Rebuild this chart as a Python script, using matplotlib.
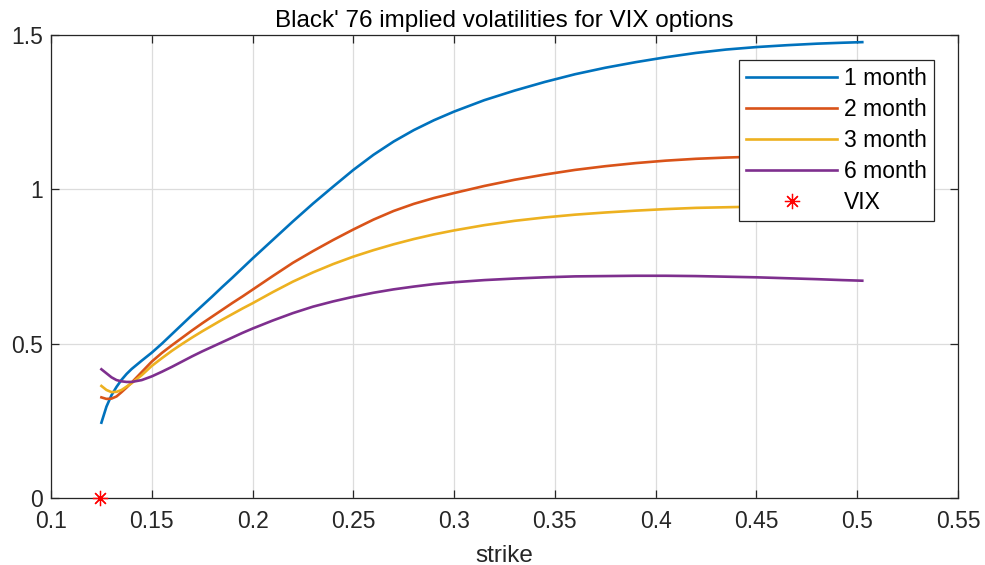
import matplotlib
matplotlib.use("Agg")
import matplotlib.pyplot as plt
import numpy as np

plt.rcParams['font.family'] = ['Liberation Sans', 'DejaVu Sans']

# strike grid and implied vols per maturity
strike = [0.125, 0.1275, 0.13, 0.1325, 0.135, 0.1375, 0.14, 0.145, 0.15, 0.155,
          0.16, 0.165, 0.17, 0.175, 0.18, 0.185, 0.19, 0.195, 0.20, 0.21,
          0.22, 0.23, 0.24, 0.25, 0.26, 0.27, 0.28, 0.29, 0.30, 0.315,
          0.33, 0.345, 0.36, 0.375, 0.39, 0.405, 0.42, 0.435, 0.45, 0.465,
          0.48, 0.4925, 0.5025]
vol_1m = [0.244, 0.296, 0.333, 0.360, 0.383, 0.402, 0.418, 0.445, 0.471, 0.500,
          0.531, 0.562, 0.593, 0.623, 0.653, 0.684, 0.714, 0.745, 0.776, 0.836,
          0.896, 0.954, 1.009, 1.063, 1.112, 1.155, 1.192, 1.224, 1.252, 1.289,
          1.320, 1.348, 1.373, 1.394, 1.412, 1.428, 1.442, 1.453, 1.461, 1.467,
          1.472, 1.475, 1.477]
vol_2m = [0.326, 0.321, 0.322, 0.329, 0.343, 0.358, 0.374, 0.408, 0.442, 0.470,
          0.495, 0.519, 0.543, 0.566, 0.588, 0.610, 0.632, 0.653, 0.675, 0.719,
          0.762, 0.800, 0.836, 0.870, 0.902, 0.930, 0.953, 0.972, 0.988, 1.011,
          1.031, 1.048, 1.063, 1.075, 1.085, 1.093, 1.099, 1.103, 1.106, 1.108,
          1.109, 1.109, 1.109]
vol_3m = [0.363, 0.350, 0.343, 0.344, 0.350, 0.361, 0.372, 0.398, 0.428, 0.453,
          0.477, 0.499, 0.520, 0.540, 0.559, 0.578, 0.596, 0.614, 0.631, 0.667,
          0.701, 0.731, 0.758, 0.782, 0.803, 0.822, 0.839, 0.854, 0.867, 0.884,
          0.898, 0.909, 0.918, 0.925, 0.931, 0.936, 0.940, 0.942, 0.944, 0.945,
          0.945, 0.945, 0.945]
vol_6m = [0.417, 0.404, 0.391, 0.382, 0.378, 0.376, 0.376, 0.382, 0.394, 0.409,
          0.425, 0.442, 0.459, 0.475, 0.490, 0.505, 0.520, 0.535, 0.549, 0.575,
          0.599, 0.620, 0.637, 0.652, 0.665, 0.676, 0.685, 0.693, 0.699, 0.706,
          0.711, 0.715, 0.718, 0.719, 0.720, 0.720, 0.719, 0.717, 0.715, 0.712,
          0.709, 0.706, 0.704]
labels = ['1 month', '2 month', '3 month', '6 month']
vix_level = 0.1245

colors = ['#0072BD', '#D95319', '#EDB120', '#7E2F8E']

fig = plt.figure(figsize=(9.85, 5.65), dpi=100)
ax = fig.add_axes([0.0518, 0.1186, 0.9208, 0.8194])

for v, c, lab in zip([vol_1m, vol_2m, vol_3m, vol_6m], colors, labels):
    ax.plot(strike, v, '-', color=c, lw=1.9, label=lab)
# spot VIX level sits on the strike axis
ax.plot([vix_level], [0], linestyle='none', marker=(8, 2, 0), ms=11,
        mec='#FF0000', mew=0.9, label='VIX', clip_on=False, zorder=5)

ax.set_xlim(0.1, 0.55)
ax.set_ylim(0, 1.5)
ax.set_xticks(np.arange(0.1, 0.551, 0.05))
ax.set_xticklabels(['0.1', '0.15', '0.2', '0.25', '0.3', '0.35', '0.4', '0.45', '0.5', '0.55'])
ax.set_yticks([0, 0.5, 1, 1.5])
ax.set_yticklabels(['0', '0.5', '1', '1.5'])
ax.grid(True, color='#dcdcdc', lw=0.9)
ax.set_axisbelow(True)
ax.tick_params(direction='in', top=True, right=True, length=6, width=0.9,
               colors='#262626', labelsize=16.5)
ax.tick_params(axis='x', pad=9)
ax.tick_params(axis='y', pad=6)
for s in ax.spines.values():
    s.set_color('#262626')
    s.set_linewidth(0.9)

ax.set_xlabel('strike', fontsize=17.5, color='#262626', labelpad=8)
ax.set_title("Black' 76 implied volatilities for VIX options", fontsize=17.5,
             color='black', pad=6)

leg = ax.legend(loc='upper right', bbox_to_anchor=(0.9735, 0.946), fontsize=16.5,
                handlelength=4.0, handletextpad=0.3, labelspacing=0.35,
                borderpad=0.3, borderaxespad=0, fancybox=False, framealpha=1,
                edgecolor='#262626')
leg.get_frame().set_linewidth(0.9)

fig.savefig('out.png', dpi=100)
